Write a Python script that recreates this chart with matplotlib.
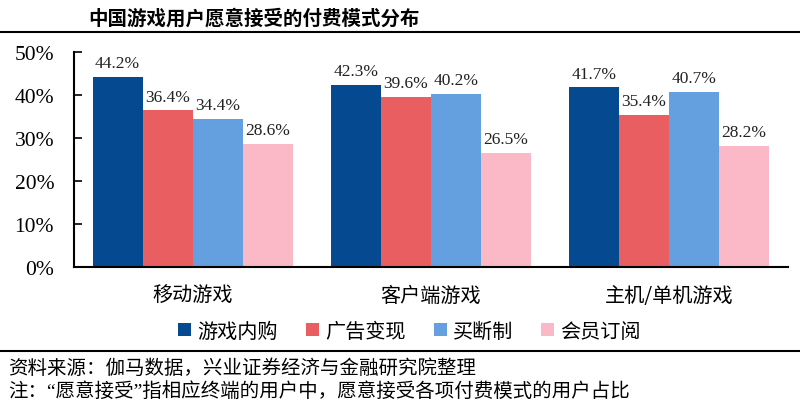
import numpy as np
import matplotlib.pyplot as plt
from matplotlib.lines import Line2D

plt.rcParams['font.family'] = ['Liberation Serif', 'Noto Sans CJK SC']

categories = ["移动游戏", "客户端游戏", "主机/单机游戏"]
series = ["游戏内购", "广告变现", "买断制", "会员订阅"]
values = [
    [44.2, 42.3, 41.7],
    [36.4, 39.6, 35.4],
    [34.4, 40.2, 40.7],
    [28.6, 26.5, 28.2],
]
colors = ["#054a91", "#e95f61", "#64a0df", "#fbb9c7"]
yticks = [0, 10, 20, 30, 40, 50]

fig = plt.figure(figsize=(8, 4.06), dpi=100)
ax = fig.add_axes([0.092, 0.34, 0.893, 0.53])

x = np.arange(len(categories))
w = 0.21
for i, (name, vals) in enumerate(zip(series, values)):
    pos = x + (i - 1.5) * w
    ax.bar(pos, vals, width=w, color=colors[i], label=name)
    for px, v in zip(pos, vals):
        ax.text(px, v + 1.3, f"{v:.1f}%", ha="center", va="bottom",
                fontsize=12.5, color="#222222")

ax.set_xlim(-0.5, 2.5)
ax.set_ylim(0, 50)
ax.set_yticks(yticks)
ax.set_yticklabels([f"{t}%" for t in yticks], fontsize=15.5)
ax.set_xticks(x)
ax.set_xticklabels(categories, fontsize=14.5, family=['Noto Sans CJK SC'])
ax.tick_params(axis="x", length=0, pad=13)
ax.tick_params(axis="y", direction="in", length=6, width=1.2, pad=14)
for s in ["top", "right"]:
    ax.spines[s].set_visible(False)
for s in ["left", "bottom"]:
    ax.spines[s].set_linewidth(1.5)

leg = ax.legend(loc="upper center", bbox_to_anchor=(0.47, -0.165), ncol=4,
                frameon=False, handlelength=0.65, handleheight=0.65,
                handletextpad=0.3, columnspacing=1.4,
                prop={"family": "Noto Sans CJK SC", "size": 14.5})

fig.text(0.11, 0.955, "中国游戏用户愿意接受的付费模式分布", fontsize=14,
         fontweight="bold", family=['Noto Sans CJK SC'], va="center")
fig.add_artist(Line2D([0.0, 1.0], [0.918, 0.918], color="black", lw=1.5))
fig.add_artist(Line2D([0.0, 1.0], [0.133, 0.133], color="black", lw=1.5))
fig.text(0.01, 0.092, "资料来源：伽马数据，兴业证券经济与金融研究院整理", fontsize=14,
         family=['Noto Sans CJK SC'], va="center")
fig.text(0.01, 0.036, "注：“愿意接受”指相应终端的用户中，愿意接受各项付费模式的用户占比",
         fontsize=14, family=['Liberation Serif', 'Noto Sans CJK SC'], va="center")

fig.savefig("out.png", dpi=100)
